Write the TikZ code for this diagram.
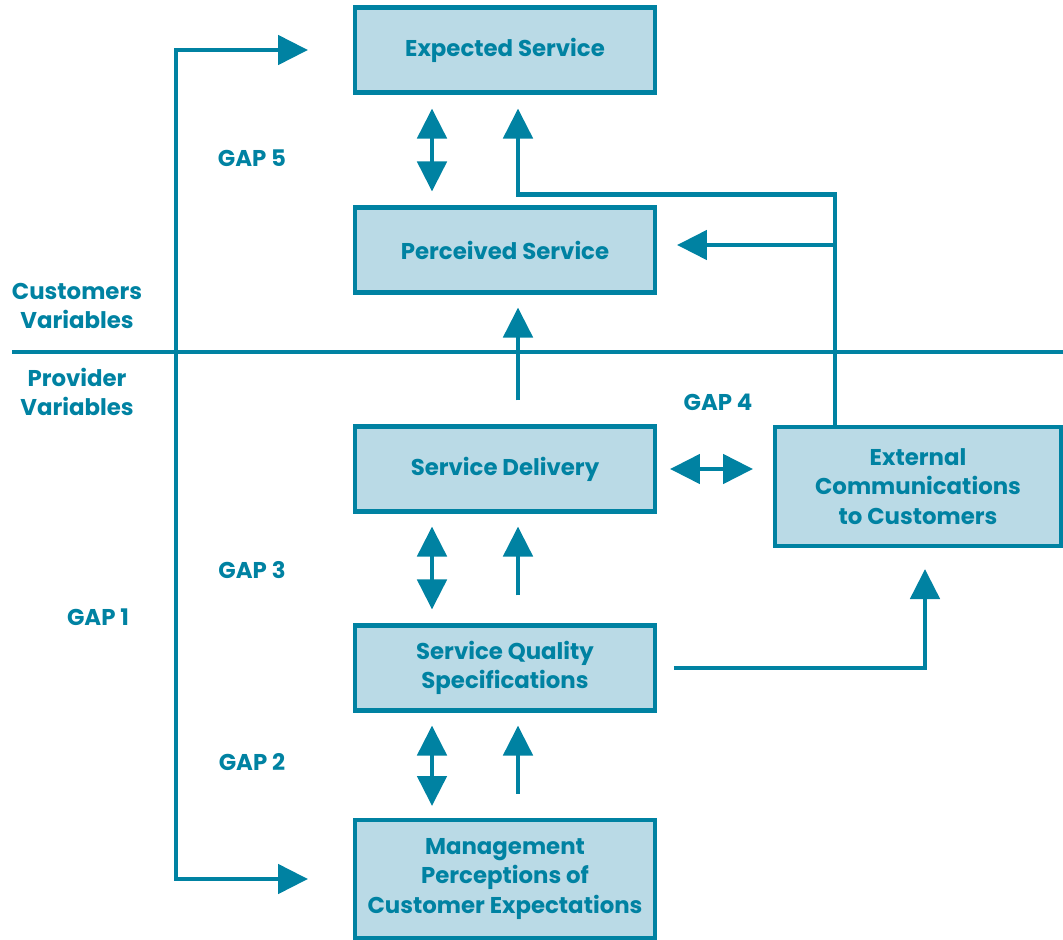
\documentclass[tikz,border=0pt]{standalone}
\usepackage{fontspec}
\setmainfont{Poppins}
\usetikzlibrary{arrows.meta,calc,positioning}
\definecolor{gapline}{RGB}{0,130,162}
\definecolor{gapfill}{RGB}{186,218,230}
\tikzset{%
    gapbox/.style={%
        rectangle, minimum width=6cm, minimum height=1.7cm, text centered, draw=gapline, line width=2.3pt, fill=gapfill, text=gapline, align=center, font=\bfseries\fontsize{13}{16.7}\selectfont
    },
    gaplabel/.style={%
        text=gapline, align=center, font=\bfseries\fontsize{13}{16.7}\selectfont
    },
    plain/.style={%
        draw=gapline, line width=2.8pt
    },
    flow/.style={%
        plain, -{Triangle[width=0.58cm,length=0.6cm]}
    },
    twoway/.style={%
        plain, {Triangle[width=0.58cm,length=0.6cm]}-{Triangle[width=0.58cm,length=0.6cm]}
    },
}
\begin{document}
\begin{tikzpicture}[x=0.02cm,y=-0.02cm]
      \useasboundingbox (0,0) rectangle (1063,940);

      \node[gapbox] (expected) at (505,50) {Expected Service};
      \node[gapbox] (perceived) at (505,250) {Perceived Service};
      \node[gapbox] (delivery) at (505,469) {Service Delivery};
      \node[gapbox] (quality) at (505,668) {Service Quality\\Specifications};
      \node[gapbox, minimum height=2.36cm] (management) at (505,879) {Management\\Perceptions of\\Customer Expectations};
      \node[gapbox, minimum width=5.72cm, minimum height=2.38cm] (external) at (918,486.5) {External\\Communications\\to Customers};

      \node[gaplabel] (gapfive) at (252,158) {GAP 5};
      \node[gaplabel] (gapfour) at (718,402) {GAP 4};
      \node[gaplabel] (gapthree) at (252,570) {GAP 3};
      \node[gaplabel] (gaptwo) at (252,762) {GAP 2};
      \node[gaplabel] (gapone) at (98,617) {GAP 1};
      \node[gaplabel] (customers) at (77,306) {Customers\\Variables};
      \node[gaplabel] (provider) at (77,392) {Provider\\Variables};

      % customer / provider divide
      \draw[plain] (12,352) -- (1063,352);

      % gap 1 loop
      \draw[twoway] ($(expected.west)+(-45,0)$) -| ($(management.west)+(-177,0)$) -- ($(management.west)+(-45,0)$);

      % gap 5
      \draw[twoway] ($(expected.south)+(-73,14)$) -- ($(perceived.north)+(-73,-14)$);
      \draw[flow] ($(external.north)+(-83,0)$) |- ($(expected.south)+(13,100)$) -- ($(expected.south)+(13,14)$);
      \coordinate (junction) at ($(perceived.east)+(180,-5)$);
      \draw[flow] (junction) -- ($(perceived.east)+(20,-5)$);
      \draw[flow] ($(delivery.north)+(13,-24)$) -- ($(perceived.south)+(13,13)$);

      % gap 4
      \draw[twoway] ($(delivery.east)+(13,0)$) -- ($(external.west |- delivery.east)+(-20,0)$);
      \draw[flow] ($(quality.east)+(17,0)$) -| ($(external.south)+(7,21)$);

      % gap 3
      \draw[twoway] ($(delivery.south)+(-73,13)$) -- ($(quality.north)+(-73,-14)$);
      \draw[flow] ($(quality.north)+(13,-28)$) -- ($(delivery.south)+(13,13)$);

      % gap 2
      \draw[twoway] ($(quality.south)+(-73,13)$) -- ($(management.north)+(-73,-12)$);
      \draw[flow] ($(management.north)+(13,-24)$) -- ($(quality.south)+(13,13)$);
    \end{tikzpicture}
\end{document}
